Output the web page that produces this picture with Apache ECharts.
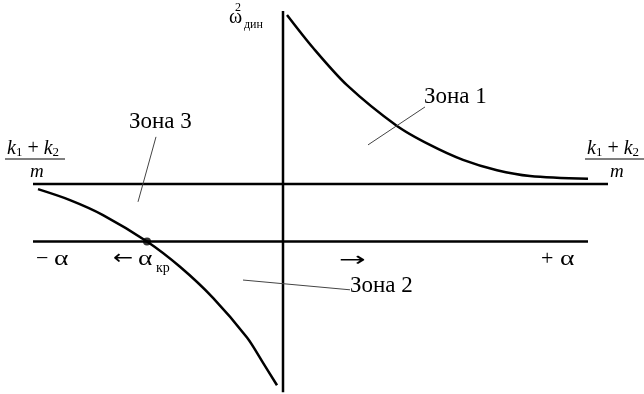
<style>
  html, body { margin: 0; padding: 0; background: #fff; }
</style>
<script src="https://cdn.jsdelivr.net/npm/echarts@6.0.0/dist/echarts.min.js"></script>

<div id="chart" style="width: 644px; height: 394px;"></div>

<script>
  // data units: x = alpha (0 at the omega axis), y = omega^2 with (k1+k2)/m = 1
  const alphaLine = [[-2.50, 0], [3.05, 0]];
  const levelLine = [[-2.50, 1], [3.25, 1]];
  const omegaLine = [[0, 4.01], [0, -2.62]];
  const rightCurve = [
    [0.04, 3.94], [0.30, 3.37], [0.64, 2.72], [1.14, 2.01], [1.47, 1.68],
    [1.80, 1.42], [2.14, 1.24], [2.47, 1.14], [3.05, 1.09]
  ];
  const leftCurve = [
    [-2.45, 0.91], [-2.13, 0.72], [-1.80, 0.46], [-1.36, 0], [-1.03, -0.44],
    [-0.70, -0.98], [-0.36, -1.67], [-0.21, -2.08], [-0.06, -2.50]
  ];
  const criticalPoint = [[-1.36, 0]];
  const zone1Leader = [[1.42, 2.34], [0.85, 1.68]];
  const zone2Leader = [[0.67, -0.84], [-0.40, -0.67]];
  const zone3Leader = [[-1.27, 1.82], [-1.45, 0.69]];
  const zoneNames = ['Зона 1', 'Зона 2', 'Зона 3'];

  const serif = '"Liberation Serif", "DejaVu Serif", serif';

  const ready = (fn) => {
    if (document.readyState !== "loading") {
      fn();
    } else {
      document.addEventListener("DOMContentLoaded", fn);
    }
  };

  ready(() => {
    const chartDom = document.getElementById("chart");
    const myChart = echarts.init(chartDom, null, { renderer: "canvas" });

    const thick = (data, smooth) => ({
      type: 'line', data, smooth: smooth || false,
      showSymbol: false, silent: true,
      lineStyle: { color: '#000', width: 2.5 }
    });
    const thin = (data) => ({
      type: 'line', data, showSymbol: false, silent: true,
      lineStyle: { color: '#444', width: 1 }
    });

    const txt = (x, y, text, size, extra, scaleX) => ({
      type: 'text', silent: true, x, y, scaleX: scaleX || 1,
      style: Object.assign({
        x: 0, y: 0, text, fill: '#000', font: `${size}px ${serif}`,
        align: 'left', verticalAlign: 'middle'
      }, extra || {})
    });
    const arrow = (x, y, text, scaleX) =>
      txt(x, y, text, 20, { font: '20px "DejaVu Sans", sans-serif' }, scaleX);
    const frac = (x) => ([
      txt(x + 2, 149, '{k|k}{s|1} + {k|k}{s|2}', 20, {
        rich: {
          k: { fontStyle: 'italic', fontSize: 20, fontFamily: serif, verticalAlign: 'top', lineHeight: 20 },
          s: { fontSize: 13, fontFamily: serif, verticalAlign: 'bottom', lineHeight: 12 }
        }
      }),
      { type: 'line', silent: true, shape: { x1: x, y1: 159, x2: x + 60, y2: 159 },
        style: { stroke: '#000', lineWidth: 1.2 } },
      txt(x + 25, 172, 'm', 19, { font: `italic 19px ${serif}` })
    ]);

    const option = {
      animation: false,
      grid: { left: 0, right: 0, top: 0, bottom: 0 },
      xAxis: { type: 'value', min: -2.83, max: 3.61, show: false },
      yAxis: { type: 'value', min: -2.652, max: 4.2, show: false },
      series: [
        thick(alphaLine),
        thick(levelLine),
        thick(omegaLine),
        thick(rightCurve, 0.3),
        thick(leftCurve, 0.3),
        thin(zone1Leader),
        thin(zone2Leader),
        thin(zone3Leader),
        {
          type: 'scatter', data: criticalPoint, symbolSize: 8, silent: true,
          itemStyle: { color: '#000' }
        }
      ],
      graphic: [
        txt(424, 97, zoneNames[0], 23),
        txt(350, 286, zoneNames[1], 23),
        txt(129, 122, zoneNames[2], 23),
        txt(36, 259, '−', 22),
        txt(54, 259, 'α', 22, null, 1.25),
        arrow(113, 259, '←', 1.2),
        txt(138, 259, 'α', 22, null, 1.25),
        txt(156, 268, 'кр', 14),
        txt(541, 259, '+', 22),
        txt(560, 259, 'α', 22, null, 1.25),
        arrow(339, 261, '→', 1.6),
        txt(229, 18, 'ω', 20),
        txt(235, 8, '2', 12),
        txt(244, 25, 'дин', 12),
        ...frac(5),
        ...frac(585)
      ]
    };
    myChart.setOption(option);
  });
</script>
